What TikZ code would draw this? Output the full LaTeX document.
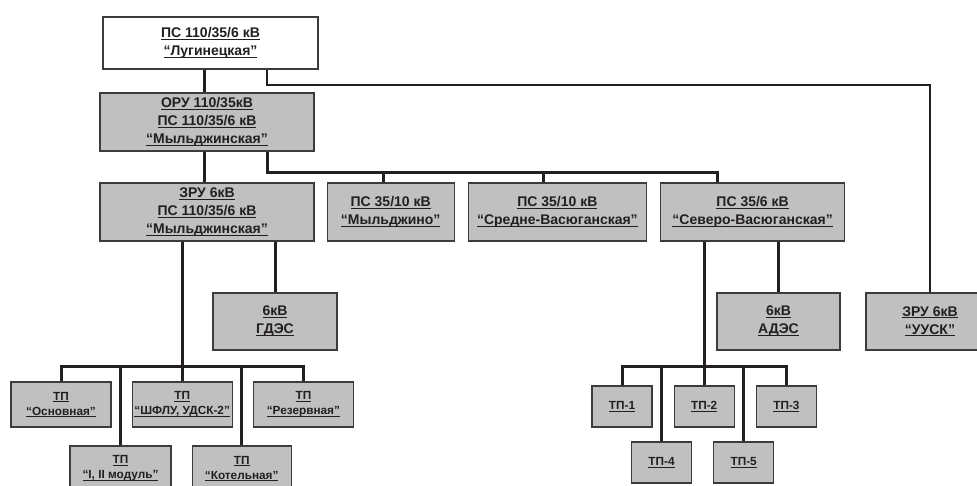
\documentclass[tikz,border=0pt]{standalone}
\usepackage{fontspec}
\setmainfont{Liberation Sans}
\usepackage{tikz}
\usetikzlibrary{positioning}
\definecolor{boxgray}{HTML}{C0C0C0}
\definecolor{edgegray}{HTML}{3C3C3C}
\definecolor{inkblack}{HTML}{231F20}
\newcommand{\undl}[1]{\setbox0\hbox{#1}\rlap{\rule[-2pt]{\wd0}{0.9pt}}\box0}
\tikzset{
    station/.style={rectangle, draw=edgegray, line width=1.2pt, fill=boxgray, text=inkblack, align=center, inner sep=0pt, font=\bfseries\fontsize{14}{18}\selectfont},
    tpbox/.style={station, font=\bfseries\fontsize{11.8}{15}\selectfont},
    wire/.style={draw=inkblack, line width=3pt},
    feeder/.style={draw=inkblack, line width=2pt}
}
\begin{document}
\begin{tikzpicture}[x=1pt, y=-1pt]
    \useasboundingbox (0,0) rectangle (977,485);
    % Nodes
    \node (lug) [station, fill=white, minimum width=215, minimum height=52] at (210.5,43) {\undl{ПС 110/35/6 кВ}\\\undl{“Лугинецкая”}};
    \node (oru) [station, minimum width=214, minimum height=58] at (207,122) {\undl{ОРУ 110/35кВ}\\\undl{ПС 110/35/6 кВ}\\\undl{“Мыльджинская”}};
    \node (zru) [station, minimum width=214, minimum height=58] at (207,212) {\undl{ЗРУ 6кВ}\\\undl{ПС 110/35/6 кВ}\\\undl{“Мыльджинская”}};
    \node (myl) [station, minimum width=127, minimum height=58, right=12pt of zru] {\undl{ПС 35/10 кВ}\\\undl{“Мыльджино”}};
    \node (sred) [station, minimum width=178, minimum height=58, right=13pt of myl] {\undl{ПС 35/10 кВ}\\\undl{“Средне-Васюганская”}};
    \node (sever) [station, minimum width=184, minimum height=58, right=13pt of sred] {\undl{ПС 35/6 кВ}\\\undl{“Северо-Васюганская”}};
    \node (gdes) [station, minimum width=124, minimum height=57] at (275,321.5) {\undl{6кВ}\\\undl{ГДЭС}};
    \node (ades) [station, minimum width=123, minimum height=57] at (778.5,321.5) {\undl{6кВ}\\\undl{АДЭС}};
    \node (uusk) [station, minimum width=128, minimum height=57] at (930,321.5) {\undl{ЗРУ 6кВ}\\\undl{“УУСК”}};
    \node (osn) [tpbox, minimum width=100, minimum height=45] at (61,404.5) {\undl{ТП}\\\undl{“Основная”}};
    \node (shflu) [tpbox, minimum width=100, minimum height=45, right=20pt of osn] {\undl{ТП}\\\undl{“ШФЛУ, УДСК-2”}};
    \node (rez) [tpbox, minimum width=100, minimum height=45, right=20pt of shflu] {\undl{ТП}\\\undl{“Резервная”}};
    \node (mod) [tpbox, minimum width=101, minimum height=45] at (120.5,468.5) {\undl{ТП}\\\undl{“I, II модуль”}};
    \node (kot) [tpbox, minimum width=99, minimum height=45, right=20pt of mod] {\undl{ТП}\\\undl{“Котельная”}};
    \node (tp1) [tpbox, minimum width=60, minimum height=41] at (622,406.5) {\undl{ТП-1}};
    \node (tp2) [tpbox, minimum width=60, minimum height=41, right=21pt of tp1] {\undl{ТП-2}};
    \node (tp3) [tpbox, minimum width=60, minimum height=41, right=21pt of tp2] {\undl{ТП-3}};
    \node (tp4) [tpbox, minimum width=60, minimum height=41] at (661.5,462.5) {\undl{ТП-4}};
    \node (tp5) [tpbox, minimum width=60, minimum height=41, right=21pt of tp4] {\undl{ТП-5}};
    % Bus points
    \coordinate (trunk) at (204,0);
    \coordinate (tapL) at (267,85);
    \coordinate (tapR) at (930,85);
    \coordinate (busM) at (267,172);
    \coordinate (busE) at (717,172);
    \coordinate (tpbus) at (0,366);
    % Lines
    \draw [wire] (lug.south -| trunk) -- (oru.north -| trunk);
    \draw [wire] (oru.south -| trunk) -- (zru.north -| trunk);
    \draw [feeder] (lug.south -| tapL) -- (tapL) -- (tapR) -- (uusk.north);
    \draw [wire] (oru.south -| busM) -- (busM) -- (busE) -- (sever.north -| busE);
    \draw [wire] ([xshift=-7.5pt]myl.north) -- ([xshift=-7.5pt]myl.north |- busM);
    \draw [wire] ([xshift=-14pt]sred.north) -- ([xshift=-14pt]sred.north |- busM);
    \draw [wire] (zru.south -| gdes.north) -- (gdes.north);
    \draw [wire] (zru.south -| shflu.north) -- (shflu.north);
    \draw [wire] (osn.north) -- (osn.north |- tpbus) -- (rez.north |- tpbus) -- (rez.north);
    \foreach \n in {mod, kot}
        \draw [wire] (\n.north |- tpbus) -- (\n.north);
    \draw [wire] (sever.south -| ades.north) -- (ades.north);
    \draw [wire] (sever.south -| tp2.north) -- (tp2.north);
    \draw [wire] (tp1.north) -- (tp1.north |- tpbus) -- (tp3.north |- tpbus) -- (tp3.north);
    \foreach \n in {tp4, tp5}
        \draw [wire] (\n.north |- tpbus) -- (\n.north);
\end{tikzpicture}
\end{document}
